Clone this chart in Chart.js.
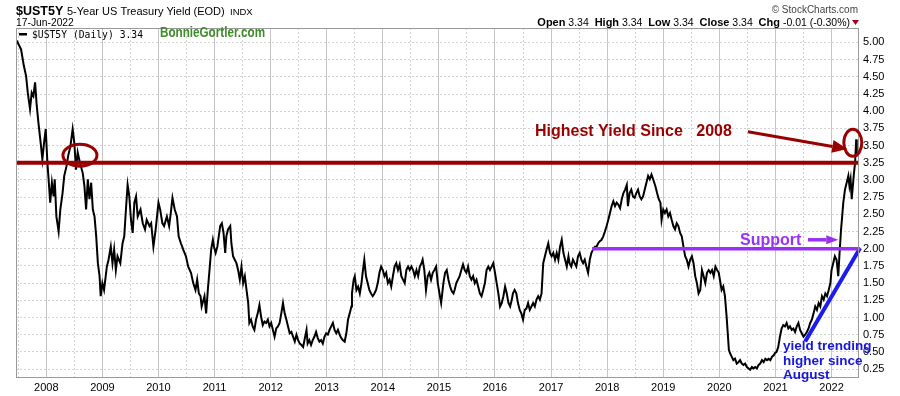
<!DOCTYPE html>
<html>
<head>
<meta charset="utf-8">
<script src="https://cdn.jsdelivr.net/npm/chart.js@4.4.1/dist/chart.umd.min.js"></script>
<style>
  html, body { margin: 0; padding: 0; background: #fff; }
</style>
</head>
<body>
<canvas id="yieldChart" width="900" height="396"></canvas>
<script>
// $UST5Y daily close (decimal year, yield %)
const dates = [
  2007.47, 2007.49, 2007.55, 2007.60, 2007.64, 2007.67, 2007.71, 2007.74, 2007.77, 2007.80, 2007.83, 2007.86, 2007.90, 2007.93, 2007.96, 2007.99,
  2008.02, 2008.05, 2008.07, 2008.10, 2008.13, 2008.15, 2008.18, 2008.22, 2008.25, 2008.29, 2008.32, 2008.36, 2008.39, 2008.43, 2008.47, 2008.50, 2008.53, 2008.56, 2008.60, 2008.65, 2008.68, 2008.71, 2008.74, 2008.77, 2008.80, 2008.83, 2008.86, 2008.89, 2008.92, 2008.95, 2008.97,
  2009.00, 2009.03, 2009.08, 2009.11, 2009.15, 2009.18, 2009.21, 2009.24, 2009.27, 2009.32, 2009.36, 2009.39, 2009.42, 2009.45, 2009.48, 2009.51, 2009.54, 2009.57, 2009.60, 2009.63, 2009.68, 2009.72, 2009.76, 2009.79, 2009.84, 2009.87, 2009.91, 2009.95,
  2010.00, 2010.03, 2010.07, 2010.10, 2010.15, 2010.19, 2010.22, 2010.25, 2010.29, 2010.33, 2010.36, 2010.40, 2010.44, 2010.49, 2010.53, 2010.58, 2010.62, 2010.66, 2010.69, 2010.72, 2010.75, 2010.77, 2010.82, 2010.85, 2010.88, 2010.91, 2010.94, 2010.97, 2010.99,
  2011.02, 2011.05, 2011.10, 2011.13, 2011.16, 2011.19, 2011.21, 2011.24, 2011.28, 2011.30, 2011.33, 2011.36, 2011.39, 2011.42, 2011.45, 2011.48, 2011.51, 2011.54, 2011.57, 2011.60, 2011.62, 2011.65, 2011.68, 2011.71, 2011.74, 2011.77, 2011.80, 2011.83, 2011.86, 2011.89, 2011.92, 2011.95, 2011.98,
  2012.01, 2012.04, 2012.07, 2012.10, 2012.13, 2012.16, 2012.19, 2012.22, 2012.25, 2012.28, 2012.31, 2012.34, 2012.37, 2012.40, 2012.43, 2012.46, 2012.49, 2012.52, 2012.55, 2012.58, 2012.61, 2012.64, 2012.66, 2012.69, 2012.72, 2012.75, 2012.78, 2012.81, 2012.84, 2012.87, 2012.90, 2012.93, 2012.96, 2012.99,
  2013.02, 2013.05, 2013.08, 2013.11, 2013.14, 2013.17, 2013.20, 2013.23, 2013.26, 2013.29, 2013.32, 2013.35, 2013.38, 2013.41, 2013.44, 2013.45, 2013.48, 2013.50, 2013.53, 2013.56, 2013.59, 2013.62, 2013.64, 2013.67, 2013.70, 2013.73, 2013.76, 2013.79, 2013.82, 2013.85, 2013.88, 2013.91, 2013.94, 2013.97,
  2014.00, 2014.03, 2014.06, 2014.09, 2014.12, 2014.15, 2014.18, 2014.21, 2014.24, 2014.27, 2014.30, 2014.33, 2014.36, 2014.39, 2014.42, 2014.45, 2014.48, 2014.51, 2014.54, 2014.57, 2014.60, 2014.63, 2014.66, 2014.69, 2014.71, 2014.74, 2014.77, 2014.80, 2014.83, 2014.86, 2014.89, 2014.92, 2014.95, 2014.98,
  2015.01, 2015.04, 2015.08, 2015.11, 2015.14, 2015.17, 2015.20, 2015.23, 2015.26, 2015.28, 2015.31, 2015.34, 2015.37, 2015.40, 2015.43, 2015.46, 2015.49, 2015.52, 2015.55, 2015.58, 2015.61, 2015.64, 2015.67, 2015.70, 2015.73, 2015.76, 2015.79, 2015.82, 2015.85, 2015.88, 2015.91, 2015.94, 2015.97,
  2016.00, 2016.03, 2016.06, 2016.09, 2016.12, 2016.15, 2016.18, 2016.21, 2016.24, 2016.27, 2016.30, 2016.32, 2016.35, 2016.38, 2016.41, 2016.44, 2016.47, 2016.50, 2016.53, 2016.56, 2016.59, 2016.62, 2016.65, 2016.68, 2016.71, 2016.74, 2016.77, 2016.80, 2016.83, 2016.86, 2016.89, 2016.92, 2016.95, 2016.98,
  2017.01, 2017.04, 2017.07, 2017.10, 2017.13, 2017.16, 2017.19, 2017.22, 2017.25, 2017.28, 2017.31, 2017.33, 2017.36, 2017.39, 2017.42, 2017.45, 2017.48, 2017.51, 2017.54, 2017.57, 2017.60, 2017.63, 2017.66, 2017.69, 2017.72, 2017.75, 2017.78, 2017.81, 2017.84, 2017.87, 2017.90, 2017.93, 2017.96, 2017.99,
  2018.02, 2018.05, 2018.08, 2018.11, 2018.14, 2018.17, 2018.20, 2018.23, 2018.26, 2018.29, 2018.32, 2018.35, 2018.37, 2018.40, 2018.43, 2018.46, 2018.49, 2018.52, 2018.55, 2018.58, 2018.61, 2018.64, 2018.67, 2018.70, 2018.73, 2018.76, 2018.79, 2018.82, 2018.86, 2018.89, 2018.92, 2018.95, 2018.97,
  2019.00, 2019.03, 2019.06, 2019.09, 2019.12, 2019.15, 2019.18, 2019.21, 2019.24, 2019.27, 2019.30, 2019.33, 2019.36, 2019.39, 2019.42, 2019.45, 2019.48, 2019.51, 2019.54, 2019.57, 2019.60, 2019.63, 2019.66, 2019.69, 2019.72, 2019.75, 2019.78, 2019.81, 2019.84, 2019.87, 2019.90, 2019.93, 2019.96, 2019.99,
  2020.01, 2020.04, 2020.07, 2020.10, 2020.13, 2020.15, 2020.17, 2020.19, 2020.22, 2020.25, 2020.28, 2020.31, 2020.34, 2020.37, 2020.40, 2020.43, 2020.46, 2020.49, 2020.52, 2020.55, 2020.58, 2020.61, 2020.64, 2020.67, 2020.70, 2020.73, 2020.76, 2020.79, 2020.82, 2020.85, 2020.88, 2020.91, 2020.94, 2020.97, 2020.99,
  2021.02, 2021.05, 2021.08, 2021.11, 2021.14, 2021.17, 2021.20, 2021.23, 2021.26, 2021.29, 2021.32, 2021.35, 2021.38, 2021.41, 2021.44, 2021.47, 2021.50, 2021.53, 2021.56, 2021.59, 2021.62, 2021.65, 2021.68, 2021.71, 2021.74, 2021.77, 2021.80, 2021.83, 2021.86, 2021.89, 2021.92, 2021.95, 2021.98,
  2022.00, 2022.03, 2022.06, 2022.09, 2022.12, 2022.14, 2022.17, 2022.19, 2022.21, 2022.24, 2022.27, 2022.30, 2022.32, 2022.34, 2022.36, 2022.38, 2022.40, 2022.42, 2022.44, 2022.45
];
const yields = [
  5.03, 5.00, 4.90, 4.66, 4.51, 4.27, 4.03, 4.27, 4.22, 4.42, 4.08, 3.83, 3.54, 3.30, 3.54, 3.74,
  3.25, 2.91, 2.67, 2.96, 2.76, 3.01, 2.47, 2.25, 2.57, 2.81, 3.06, 3.20, 3.35, 3.49, 3.74, 3.54, 3.15, 3.40, 3.25, 3.10, 2.91, 2.57, 3.01, 2.72, 2.96, 2.57, 2.47, 2.18, 1.79, 1.60, 1.31,
  1.50, 1.40, 1.74, 1.84, 2.03, 1.79, 1.99, 1.69, 1.89, 1.79, 2.08, 2.18, 2.57, 2.93, 2.76, 2.42, 2.23, 2.67, 2.76, 2.47, 2.57, 2.37, 2.28, 2.42, 2.33, 2.37, 2.03, 2.28,
  2.67, 2.57, 2.37, 2.33, 2.47, 2.33, 2.52, 2.74, 2.57, 2.47, 2.18, 2.08, 1.99, 1.89, 1.74, 1.65, 1.50, 1.40, 1.55, 1.35, 1.31, 1.16, 1.31, 1.06, 1.40, 1.69, 1.99, 2.13, 2.03,
  1.94, 2.03, 2.33, 2.37, 2.23, 1.94, 2.18, 2.28, 2.33, 2.08, 1.89, 1.84, 1.79, 1.69, 1.55, 1.74, 1.50, 1.60, 1.40, 1.21, 0.92, 0.97, 0.87, 0.82, 0.97, 1.06, 1.18, 1.01, 0.89, 0.94, 0.92, 0.97, 0.87,
  0.92, 0.82, 0.72, 0.84, 0.87, 0.92, 1.06, 1.21, 1.06, 0.97, 0.87, 0.77, 0.79, 0.72, 0.65, 0.75, 0.67, 0.62, 0.60, 0.57, 0.70, 0.82, 0.62, 0.67, 0.60, 0.67, 0.72, 0.79, 0.70, 0.65, 0.67, 0.62, 0.72, 0.77,
  0.75, 0.82, 0.87, 0.92, 0.82, 0.77, 0.82, 0.75, 0.70, 0.67, 0.65, 0.77, 0.97, 1.06, 1.16, 1.35, 1.55, 1.60, 1.40, 1.45, 1.35, 1.50, 1.65, 1.84, 1.60, 1.50, 1.40, 1.35, 1.31, 1.35, 1.40, 1.50, 1.65, 1.74,
  1.69, 1.60, 1.65, 1.50, 1.55, 1.45, 1.60, 1.74, 1.79, 1.69, 1.77, 1.60, 1.55, 1.50, 1.69, 1.74, 1.69, 1.74, 1.69, 1.60, 1.69, 1.60, 1.74, 1.79, 1.84, 1.69, 1.40, 1.60, 1.65, 1.55, 1.65, 1.69, 1.74, 1.50,
  1.35, 1.21, 1.50, 1.65, 1.69, 1.55, 1.45, 1.38, 1.35, 1.40, 1.50, 1.55, 1.60, 1.69, 1.77, 1.69, 1.65, 1.74, 1.60, 1.55, 1.60, 1.50, 1.55, 1.45, 1.35, 1.31, 1.40, 1.50, 1.69, 1.74, 1.69, 1.74, 1.79,
  1.65, 1.50, 1.35, 1.16, 1.21, 1.31, 1.45, 1.35, 1.21, 1.16, 1.26, 1.35, 1.40, 1.35, 1.21, 1.11, 1.06, 0.97, 1.11, 1.13, 1.21, 1.11, 1.16, 1.21, 1.16, 1.26, 1.31, 1.26, 1.35, 1.79, 1.89, 1.99, 2.08, 1.94,
  1.89, 1.94, 1.84, 1.94, 1.84, 2.03, 2.13, 1.94, 1.84, 1.74, 1.89, 1.79, 1.74, 1.84, 1.79, 1.74, 1.89, 1.94, 1.84, 1.79, 1.84, 1.74, 1.65, 1.84, 1.94, 1.99, 2.03, 2.03, 2.08, 2.11, 2.13, 2.18, 2.25, 2.33,
  2.42, 2.52, 2.62, 2.69, 2.62, 2.67, 2.64, 2.59, 2.72, 2.81, 2.86, 2.93, 2.62, 2.81, 2.86, 2.76, 2.74, 2.81, 2.86, 2.76, 2.72, 2.76, 2.86, 2.96, 3.06, 3.01, 3.08, 3.01, 2.91, 2.81, 2.72, 2.67, 2.42,
  2.57, 2.52, 2.57, 2.47, 2.52, 2.42, 2.33, 2.28, 2.37, 2.33, 2.23, 2.18, 2.03, 1.89, 1.84, 1.74, 1.84, 1.89, 1.79, 1.60, 1.50, 1.35, 1.40, 1.69, 1.60, 1.50, 1.65, 1.69, 1.65, 1.69, 1.60, 1.74, 1.69, 1.65,
  1.55, 1.40, 1.45, 1.31, 1.01, 0.77, 0.53, 0.48, 0.43, 0.38, 0.40, 0.33, 0.35, 0.38, 0.33, 0.31, 0.33, 0.28, 0.26, 0.24, 0.28, 0.26, 0.28, 0.26, 0.31, 0.33, 0.38, 0.35, 0.40, 0.38, 0.40, 0.38, 0.43, 0.45, 0.48,
  0.50, 0.57, 0.72, 0.84, 0.89, 0.87, 0.92, 0.84, 0.87, 0.82, 0.84, 0.79, 0.87, 0.92, 0.82, 0.77, 0.72, 0.75, 0.79, 0.84, 0.92, 0.97, 1.06, 1.16, 1.11, 1.21, 1.16, 1.31, 1.26, 1.35, 1.31, 1.40, 1.50,
  1.69, 1.79, 1.89, 1.84, 1.60, 1.89, 2.28, 2.47, 2.67, 2.86, 2.96, 3.06, 2.91, 3.01, 2.72, 2.91, 3.10, 3.25, 3.59, 3.34
];

const yearTicks = [2008, 2009, 2010, 2011, 2012, 2013, 2014, 2015, 2016, 2017, 2018, 2019, 2020, 2021, 2022];
const halfYearTicks = [2007.5, 2008.5, 2009.5, 2010.5, 2011.5, 2012.5, 2013.5, 2014.5, 2015.5, 2016.5, 2017.5, 2018.5, 2019.5, 2020.5, 2021.5];
const yTicks = [0.25, 0.50, 0.75, 1.00, 1.25, 1.50, 1.75, 2.00, 2.25, 2.50, 2.75, 3.00, 3.25, 3.50, 3.75, 4.00, 4.25, 4.50, 4.75, 5.00];

// drawn-on lines
const resistanceX = [2007.46, 2022.49];
const resistanceY = [3.25, 3.25];
const supportX = [2017.73, 2022.51];
const supportY = [2.00, 2.00];
const trendX = [2021.53, 2022.51];
const trendY = [0.65, 2.01];

const xMin = 2007.46, xMax = 2022.49;
const yMin = 0.12, yMax = 5.21;

const FONT = '"Liberation Sans", Arial, sans-serif';
Chart.defaults.font.family = FONT;
Chart.defaults.font.size = 11;
Chart.defaults.color = '#000';

const toPoints = (xs, ys) => xs.map((x, i) => ({ x: x, y: ys[i] }));

function arrow(c, x1, y1, x2, y2, color, width, headLen, headHalf) {
  const ang = Math.atan2(y2 - y1, x2 - x1);
  const bx = x2 - Math.cos(ang) * headLen, by = y2 - Math.sin(ang) * headLen;
  c.strokeStyle = color;
  c.fillStyle = color;
  c.lineWidth = width;
  c.beginPath();
  c.moveTo(x1, y1);
  c.lineTo(bx, by);
  c.stroke();
  c.beginPath();
  c.moveTo(x2, y2);
  c.lineTo(bx + Math.sin(ang) * headHalf, by - Math.cos(ang) * headHalf);
  c.lineTo(bx - Math.sin(ang) * headHalf, by + Math.cos(ang) * headHalf);
  c.closePath();
  c.fill();
}

const decorations = {
  id: 'decorations',
  afterDatasetsDraw(chart) {
    const c = chart.ctx, a = chart.chartArea;
    const x = chart.scales.x, y = chart.scales.y;
    c.save();
    // plot frame
    c.strokeStyle = '#9a9a9a';
    c.lineWidth = 1;
    c.strokeRect(a.left + 0.5, a.top + 0.5, a.right - a.left - 1, a.bottom - a.top - 1);

    // ellipses
    c.strokeStyle = '#990000';
    c.lineWidth = 3;
    c.beginPath();
    c.ellipse(x.getPixelForValue(2008.60), y.getPixelForValue(3.36), 17, 11, 0, 0, Math.PI * 2);
    c.stroke();
    c.beginPath();
    c.ellipse(x.getPixelForValue(2022.38), y.getPixelForValue(3.54), 9, 13.5, 0, 0, Math.PI * 2);
    c.stroke();

    // highest yield note
    arrow(c, x.getPixelForValue(2020.51), y.getPixelForValue(3.70),
      x.getPixelForValue(2022.28), y.getPixelForValue(3.45), '#990000', 3, 15, 6.5);
    c.fillStyle = '#990000';
    c.font = 'bold 16px ' + FONT;
    c.fillText('Highest Yield Since   2008', 535, 136);

    // support note
    arrow(c, x.getPixelForValue(2021.58), y.getPixelForValue(2.13),
      x.getPixelForValue(2022.12), y.getPixelForValue(2.13), '#9b30f5', 3.5, 12, 4.5);
    c.fillStyle = '#9b30f5';
    c.font = 'bold 16px ' + FONT;
    c.fillText('Support', 740, 245);

    // trend note
    c.fillStyle = '#1717d8';
    c.font = 'bold 13.5px ' + FONT;
    c.fillText('yield trending', 783, 350);
    c.fillText('higher since', 783, 365);
    c.fillText('August', 783, 379);

    // series legend
    c.fillStyle = '#000';
    c.fillRect(19, 33, 8, 2.5);
    c.font = '10.5px "DejaVu Sans Mono", monospace';
    c.fillText('$UST5Y (Daily) 3.34', 32, 38, 111);

    c.fillStyle = '#3c8c28';
    c.font = 'bold 14px ' + FONT;
    c.fillText('BonnieGortler.com', 160, 37, 105);
    c.restore();
  },
  afterDraw(chart) {
    const c = chart.ctx;
    c.save();
    c.fillStyle = '#000';
    c.font = 'bold 12.5px ' + FONT;
    c.fillText('$UST5Y', 16, 15);
    c.font = '11px ' + FONT;
    c.fillText('5-Year US Treasury Yield (EOD)', 67, 15);
    c.font = '9.5px ' + FONT;
    c.fillText('INDX', 230, 15);
    c.font = '10.3px ' + FONT;
    c.fillText('17-Jun-2022', 16, 26);

    c.fillStyle = '#444';
    c.font = '10px ' + FONT;
    c.textAlign = 'right';
    c.fillText('\u00A9 StockCharts.com', 858, 13);
    c.textAlign = 'left';

    // OHLC strip, right aligned to x = 850
    const parts = [['Open', ' 3.34  '], ['High', ' 3.34  '], ['Low', ' 3.34  '], ['Close', ' 3.34  '], ['Chg', ' -0.01 (-0.30%)']];
    const bold = 'bold 11px ' + FONT, reg = '10.5px ' + FONT;
    let total = 0;
    parts.forEach(p => {
      c.font = bold; total += c.measureText(p[0]).width;
      c.font = reg; total += c.measureText(p[1]).width;
    });
    let px = 850 - total;
    c.fillStyle = '#000';
    parts.forEach(p => {
      c.font = bold; c.fillText(p[0], px, 26); px += c.measureText(p[0]).width;
      c.font = reg; c.fillText(p[1], px, 26); px += c.measureText(p[1]).width;
    });
    c.fillStyle = '#a0001e';
    c.beginPath();
    c.moveTo(852, 20);
    c.lineTo(859, 20);
    c.lineTo(855.5, 25);
    c.closePath();
    c.fill();
    c.restore();
  }
};

new Chart(document.getElementById('yieldChart'), {
  type: 'line',
  data: {
    datasets: [
      {
        label: '$UST5Y (Daily)',
        data: toPoints(dates, yields),
        borderColor: '#000',
        borderWidth: 2,
        pointRadius: 0,
        order: 2
      },
      {
        label: 'resistance',
        data: toPoints(resistanceX, resistanceY),
        borderColor: '#990000',
        borderWidth: 4,
        pointRadius: 0,
        order: 0
      },
      {
        label: 'support',
        data: toPoints(supportX, supportY),
        borderColor: '#9b30f5',
        borderWidth: 3.5,
        pointRadius: 0,
        clip: false,
        order: 0
      },
      {
        label: 'trend',
        data: toPoints(trendX, trendY),
        borderColor: '#1c1cf0',
        borderWidth: 4,
        pointRadius: 0,
        clip: false,
        order: 0
      }
    ]
  },
  options: {
    responsive: false,
    devicePixelRatio: 1,
    animation: false,
    layout: { padding: { left: 16, top: 28, right: 0, bottom: 0 } },
    plugins: { legend: { display: false }, tooltip: { enabled: false } },
    scales: {
      x: {
        type: 'linear',
        position: 'bottom',
        min: xMin,
        max: xMax,
        afterBuildTicks: s => { s.ticks = yearTicks.map(v => ({ value: v })); },
        afterFit: s => { s.height = 18; },
        grid: { color: '#c6c6c6', lineWidth: 1, drawTicks: false },
        border: { display: false },
        ticks: { autoSkip: false, maxRotation: 0, padding: 3, callback: v => String(v) }
      },
      xHalf: {
        type: 'linear',
        position: 'bottom',
        min: xMin,
        max: xMax,
        afterBuildTicks: s => { s.ticks = halfYearTicks.map(v => ({ value: v })); },
        afterFit: s => { s.height = 0; },
        grid: { color: '#d2d2d2', drawTicks: false },
        border: { display: false, dash: [2, 2] },
        ticks: { display: false }
      },
      y: {
        type: 'linear',
        position: 'right',
        min: yMin,
        max: yMax,
        afterBuildTicks: s => { s.ticks = yTicks.map(v => ({ value: v })); },
        afterFit: s => { s.width = 41; },
        grid: { color: '#d2d2d2', drawTicks: false },
        border: { display: false, dash: [2, 2] },
        ticks: { autoSkip: false, padding: 4, callback: v => v.toFixed(2) }
      }
    }
  },
  plugins: [decorations]
});
</script>
</body>
</html>
